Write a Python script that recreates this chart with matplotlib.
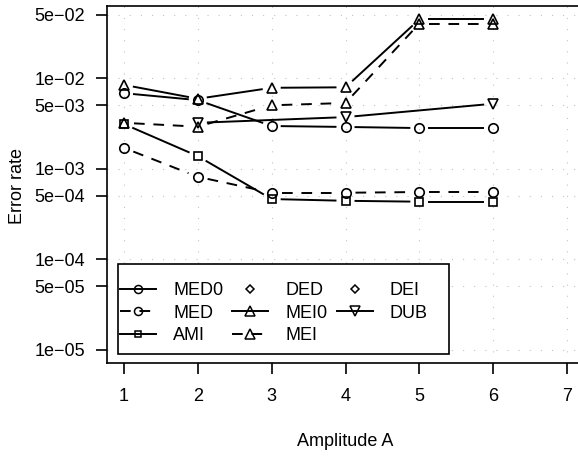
import numpy as np
import matplotlib.pyplot as plt
from matplotlib.lines import Line2D
from matplotlib.patches import Rectangle
from matplotlib.transforms import IdentityTransform

plt.rcParams['font.family'] = ['Liberation Sans', 'DejaVu Sans']
plt.rcParams['font.size'] = 13

# error rates per amplitude (NaN = not computed)
amp = [1, 2, 3, 4, 5, 6]
med0 = [6.8e-3, 5.7e-3, 2.95e-3, 2.88e-3, 2.8e-3, 2.8e-3]
med = [1.69e-3, 8.1e-4, 5.4e-4, 5.4e-4, 5.5e-4, 5.5e-4]
ami = [3.1e-3, 1.37e-3, 4.6e-4, 4.4e-4, 4.3e-4, 4.3e-4]
mei0 = [8.4e-3, 5.9e-3, 7.8e-3, 7.9e-3, 4.45e-2, 4.45e-2]
mei = [3.2e-3, 2.9e-3, 5.0e-3, 5.3e-3, 4.0e-2, 4.0e-2]
dub_amp = [2, 4, 6]
dub = [3.2e-3, 3.7e-3, 5.2e-3]
ded = []
dei = []

yticks = [1e-5, 5e-5, 1e-4, 5e-4, 1e-3, 5e-3, 1e-2, 5e-2]
ytick_labels = ["1e\u221205", "5e\u221205", "1e\u221204", "5e\u221204",
                "1e\u221203", "5e\u221203", "1e\u221202", "5e\u221202"]

LW = 1.4
DASH = (0, (5.5, 4.5))

# name, x, y, marker, markersize, linestyle (None = points only)
series = [
    ("MED0", amp, med0, "o", 6.8, "-"),
    ("MED", amp, med, "o", 6.8, DASH),
    ("AMI", amp, ami, "s", 5.6, "-"),
    ("DED", [], ded, "D", 5.0, None),
    ("MEI0", amp, mei0, "^", 7.8, "-"),
    ("MEI", amp, mei, "^", 7.8, DASH),
    ("DEI", [], dei, "D", 5.0, None),
    ("DUB", dub_amp, dub, "v", 7.8, "-"),
]

fig = plt.figure(figsize=(5.78, 4.57), dpi=100)
ax = fig.add_axes([107 / 578, 1 - 363 / 457, 477 / 578, 357 / 457])
ax.set_yscale("log")
ax.set_xlim(0.77, 7.23)
ax.set_ylim(10 ** -5.149, 10 ** -1.204)
ax.set_xticks(range(1, 8))
ax.set_yticks(yticks)
ax.set_yticklabels(ytick_labels)
ax.minorticks_off()
ax.tick_params(axis="both", direction="out", length=8, width=1.2, labelsize=13)
ax.tick_params(axis="x", pad=10)
ax.tick_params(axis="y", pad=8)
for s in ax.spines.values():
    s.set_linewidth(1.2)
ax.grid(True, color="#c4c4c4", linestyle=(0, (1, 9)), linewidth=0.8, zorder=0)
ax.set_axisbelow(True)


def gapped_line(ax, x, y, ls, gap=10.0):
    # type "b": segments stop short of the points
    if len(x) < 2:
        return
    pts = ax.transData.transform(np.column_stack([x, y]))
    for p, q in zip(pts[:-1], pts[1:]):
        d = q - p
        n = np.hypot(*d)
        if n <= 2 * gap:
            continue
        u = d / n
        a, b = p + u * gap, q - u * gap
        ax.add_line(Line2D([a[0], b[0]], [a[1], b[1]], transform=IdentityTransform(),
                           color="black", lw=LW, linestyle=ls, zorder=2))


handles = []
for name, x, y, mk, ms, ls in series:
    if ls is not None:
        gapped_line(ax, x, y, ls)
    if len(x):
        ax.plot(x, y, linestyle="none", marker=mk, ms=ms, mfc="none", mec="black",
                mew=1.2, zorder=3)
    handles.append(Line2D([], [], color="black", lw=LW if ls else 0,
                          linestyle=ls if ls else "none", marker=mk, ms=ms * 0.85,
                          mfc="none", mec="black", mew=1.1, label=name))

ax.add_patch(Rectangle((0.0231, 0.0252), 0.694, 0.252, transform=ax.transAxes,
                       facecolor="white", edgecolor="black", lw=1.2, zorder=5))
leg = ax.legend(handles=handles, ncol=3, frameon=False, loc="upper left",
                bbox_to_anchor=(0.027, 0.226), borderpad=0, borderaxespad=0,
                handlelength=2.0, handletextpad=0.95, columnspacing=0.5,
                labelspacing=0.3, fontsize=13)
leg.set_zorder(6)

fig.text(345.5 / 578, 1 - 441 / 457, "Amplitude A", ha="center", va="center", fontsize=13)
fig.text(18 / 578, 1 - 186 / 457, "Error rate", ha="center", va="center",
         rotation=90, fontsize=13)

fig.savefig("out.png", dpi=100)
